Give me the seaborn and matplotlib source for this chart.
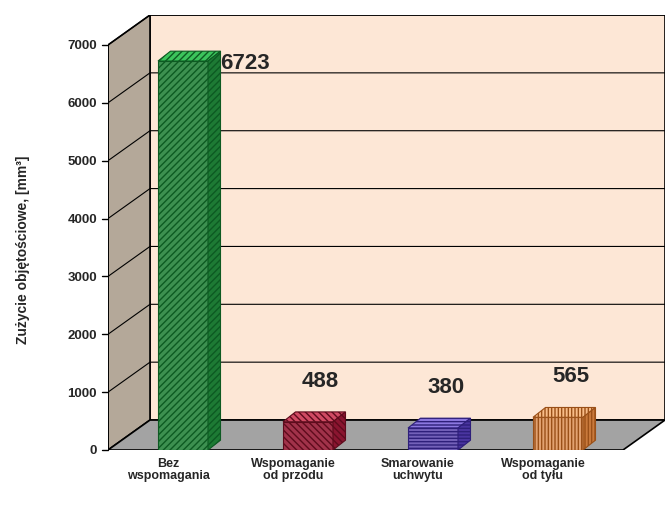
import matplotlib
matplotlib.use("Agg")
import matplotlib.pyplot as plt
import seaborn as sns
from matplotlib.patches import Polygon

sns.set_style("white")
plt.rcParams['font.family'] = ['Liberation Sans', 'DejaVu Sans']

categories = ["Bez\nwspomagania", "Wspomaganie\nod przodu", "Smarowanie\nuchwytu", "Wspomaganie\nod tyłu"]
values = [6723, 488, 380, 565]
yticks = [0, 1000, 2000, 3000, 4000, 5000, 6000, 7000]

front_colors = ["#2f9e48", "#b3203f", "#6a52c8", "#f5a05e"]
edge_colors = ["#0d5a22", "#5e0b1c", "#2e1f7a", "#9a5018"]
top_colors = ["#3cc45c", "#d04a63", "#8c78e0", "#f8bc88"]
side_colors = ["#1d7a34", "#8a1530", "#4a35a0", "#c97a3c"]
hatches = ["/////", "\\\\\\\\\\", "-----", "|||||"]

# depth of the box (walls) and of the bars, in data units
wdx, wdy = 0.336, 518
bdx, bdy = 0.1, 170
x0, x1 = -0.6, 3.52
ytop = 7000

fig = plt.figure(figsize=(6.7, 5.17), dpi=100)
ax = fig.add_axes([108 / 670, 67 / 517, 557 / 670, 435 / 517])

sns.barplot(x=categories, y=values, hue=categories, palette=front_colors, width=0.4,
            legend=False, ax=ax, zorder=3)
ax.set_xlim(x0, x1 + wdx)
ax.set_ylim(0, ytop + wdy)
bars = [b for c in ax.containers for b in c]

# walls and floor
ax.add_patch(Polygon([(x0 + wdx, wdy), (x1 + wdx, wdy), (x1 + wdx, ytop + wdy), (x0 + wdx, ytop + wdy)],
                     closed=True, facecolor="#fde7d6", edgecolor="black", lw=1.2, zorder=0))
ax.add_patch(Polygon([(x0, 0), (x0 + wdx, wdy), (x0 + wdx, ytop + wdy), (x0, ytop)],
                     closed=True, facecolor="#b4a899", edgecolor="black", lw=1.2, zorder=0))
ax.add_patch(Polygon([(x0, 0), (x1, 0), (x1 + wdx, wdy), (x0 + wdx, wdy)],
                     closed=True, facecolor="#a3a3a3", edgecolor="black", lw=1.2, zorder=1))

# grid lines on left and back wall
for t in yticks[1:]:
    ax.plot([x0, x0 + wdx, x1 + wdx], [t, t + wdy, t + wdy], color="black", lw=0.8, zorder=0.5)
ax.plot([x0, x0], [0, ytop], color="black", lw=1.2, zorder=2)
for t in yticks:
    ax.plot([x0 - 0.05, x0], [t, t], color="black", lw=1.0, clip_on=False)

for i, p in enumerate(bars):
    p.set_hatch(hatches[i])
    p.set_edgecolor(edge_colors[i])
    p.set_linewidth(0.8)
    xl, w, h = p.get_x(), p.get_width(), p.get_height()
    ax.add_patch(Polygon([(xl, h), (xl + w, h), (xl + w + bdx, h + bdy), (xl + bdx, h + bdy)],
                         closed=True, facecolor=top_colors[i], edgecolor=edge_colors[i],
                         hatch=hatches[i], lw=0.8, zorder=3))
    ax.add_patch(Polygon([(xl + w, 0), (xl + w + bdx, bdy), (xl + w + bdx, h + bdy), (xl + w, h)],
                         closed=True, facecolor=side_colors[i], edgecolor=edge_colors[i],
                         hatch=hatches[i], lw=0.8, zorder=3))
    lx = xl + w + 0.1 if i == 0 else xl + w / 2 + 0.1
    ly = h - 50 if i == 0 else h + 700
    ax.text(lx, ly, str(values[i]), ha="left" if i == 0 else "center", va="center",
            fontsize=16, fontweight="bold", zorder=4)

for s in ax.spines.values():
    s.set_visible(False)
ax.set_yticks(yticks)
ax.set_yticklabels([str(t) for t in yticks], fontsize=9.5, fontweight="bold")
ax.tick_params(axis="y", length=0, pad=8)
ax.set_xticks([i - 0.12 for i in range(4)])
ax.set_xticklabels(categories, fontsize=9, fontweight="bold", linespacing=1.0)
ax.tick_params(axis="x", length=0, pad=6)
ax.set_xlabel("")
fig.text(0.035, (517 - 250) / 517, "Zużycie objętościowe, [mm³]", rotation=90,
         ha="center", va="center", fontsize=10, fontweight="bold")

fig.savefig("out.png", dpi=100)
